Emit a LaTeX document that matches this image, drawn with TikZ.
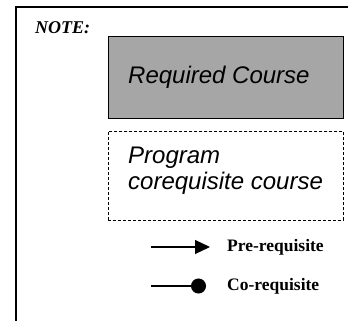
\documentclass[tikz,border=0pt]{standalone}
\usepackage{fontspec}
\setmainfont{Liberation Serif}
\setsansfont{Liberation Sans}
\usetikzlibrary{arrows.meta}
\begin{document}
\begin{tikzpicture}[x=1pt,y=-1pt,
  frameline/.style={line width=2pt},
  coursebox/.style={draw, line width=1pt, minimum width=235pt, minimum height=82pt, anchor=north west, inner sep=0pt},
  boxtext/.style={font=\sffamily\itshape\fontsize{24}{26}\selectfont, align=left, anchor=west},
  legendtext/.style={font=\bfseries\fontsize{17.5}{19}\selectfont, anchor=west},
  legendline/.style={line width=1.2pt}]
\useasboundingbox (0,0) rectangle (348,321);
\coordinate (tl) at (16,7);
\coordinate (tr) at (348,7);
\coordinate (bl) at (16,321);
\draw[frameline] (tr) -- (tl) -- (bl);
\node[font=\bfseries\itshape\fontsize{18}{20}\selectfont, anchor=west, inner sep=0pt] (note) at (35,27.5) {NOTE:};
\node[coursebox, fill={rgb,255:red,166;green,166;blue,166}] (req) at (108,36) {};
\node[boxtext, inner sep=0pt] (reqt) at (128,77) {Required Course};
\node[coursebox, dash pattern=on 3pt off 2pt, line width=0.7pt, minimum height=89pt] (coreq) at (108,131) {};
\node[boxtext, inner sep=0pt] (coreqt) at (128,171) {Program\\corequisite course};
\coordinate (p1) at (151,247);
\coordinate (p2) at (210,247);
\draw[legendline, -{Triangle[length=15pt,width=14pt]}] (p1) -- (p2);
\node[legendtext, inner sep=0pt] (pre) at (227,247) {Pre-requisite};
\coordinate (c1) at (151,286);
\coordinate (c2) at (206,286);
\draw[legendline, -{Circle[length=15pt]}] (c1) -- (c2);
\node[legendtext, inner sep=0pt] (co) at (227,286) {Co-requisite};
\end{tikzpicture}
\end{document}
